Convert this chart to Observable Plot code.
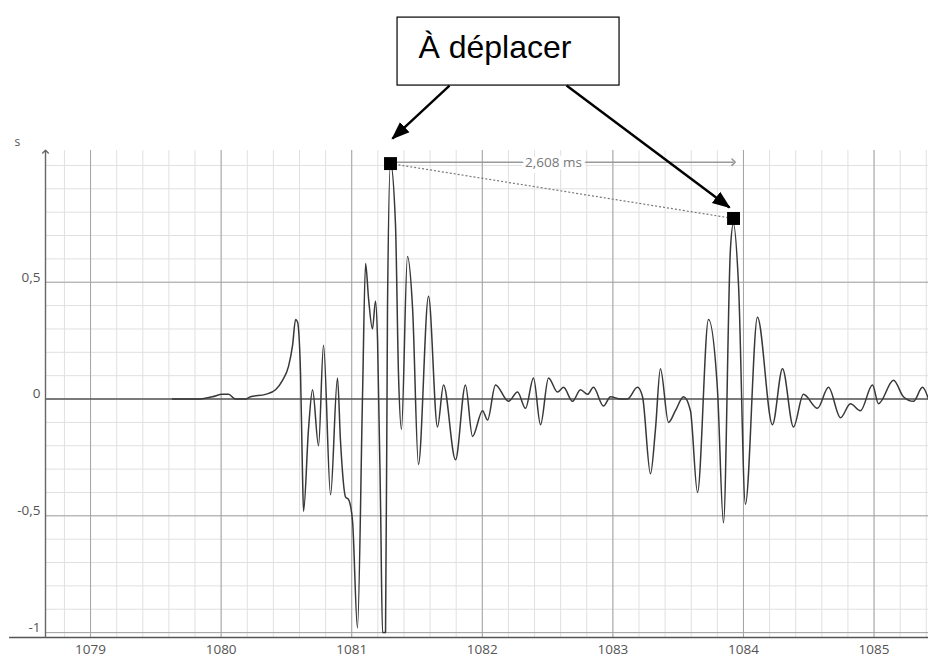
<!DOCTYPE html>
<html>
<head>
<meta charset="utf-8">
<script src="https://cdn.jsdelivr.net/npm/d3@7"></script>
<script src="https://cdn.jsdelivr.net/npm/@observablehq/plot@0.6"></script>
<style>
  html, body { margin: 0; padding: 0; background: #fff; }
  #chart { width: 928px; height: 660px; overflow: hidden; }
</style>
</head>
<body>
<div id="chart"></div>
<script>
// ---- Data ----
// time axis in ms, amplitude (unitless, axis titled "s")
const timeMs = [
  1079.628, 1079.842, 1079.934, 1080.011, 1080.057, 1080.110, 1080.187, 1080.225, 1080.340, 1080.417,
  1080.470, 1080.516, 1080.547, 1080.570, 1080.585, 1080.608, 1080.623, 1080.631, 1080.669, 1080.700,
  1080.746, 1080.784, 1080.838, 1080.891, 1080.914, 1080.953, 1080.975, 1081.006, 1081.044, 1081.083,
  1081.106, 1081.129, 1081.159, 1081.182, 1081.198, 1081.221, 1081.236, 1081.259, 1081.274, 1081.297,
  1081.335, 1081.358, 1081.381, 1081.427, 1081.466, 1081.511, 1081.588, 1081.657, 1081.703, 1081.795,
  1081.871, 1081.925, 1082.002, 1082.040, 1082.101, 1082.201, 1082.270, 1082.331, 1082.392, 1082.446,
  1082.507, 1082.576, 1082.622, 1082.691, 1082.752, 1082.806, 1082.851, 1082.928, 1082.982, 1083.058,
  1083.112, 1083.188, 1083.227, 1083.288, 1083.326, 1083.364, 1083.426, 1083.479, 1083.541, 1083.594,
  1083.648, 1083.732, 1083.801, 1083.847, 1083.900, 1083.923, 1083.962, 1084.015, 1084.107, 1084.222,
  1084.299, 1084.383, 1084.459, 1084.567, 1084.651, 1084.743, 1084.819, 1084.896, 1084.988, 1085.034,
  1085.149, 1085.225, 1085.302, 1085.371, 1085.417
];
const amplitude = [
  0.00, 0.00, 0.01, 0.02, 0.02, 0.00, 0.00, 0.01, 0.02, 0.04,
  0.08, 0.14, 0.23, 0.34, 0.33, 0.11, -0.32, -0.48, -0.13, 0.04,
  -0.20, 0.23, -0.41, 0.09, -0.18, -0.42, -0.43, -0.52, -0.98, 0.02,
  0.58, 0.43, 0.30, 0.42, 0.25, -0.46, -1.00, -1.00, 0.39, 1.01,
  0.75, 0.11, -0.13, 0.61, 0.39, -0.28, 0.44, -0.12, 0.06, -0.26,
  0.06, -0.16, -0.05, -0.09, 0.06, -0.01, 0.03, -0.04, 0.09, -0.11,
  0.09, 0.03, 0.05, -0.01, 0.04, 0.02, 0.05, -0.03, 0.01, 0.00,
  0.00, 0.05, 0.01, -0.32, -0.13, 0.13, -0.10, -0.05, 0.01, -0.05,
  -0.40, 0.34, 0.04, -0.53, 0.64, 0.75, 0.49, -0.45, 0.35, -0.11,
  0.13, -0.12, 0.02, -0.04, 0.05, -0.08, -0.02, -0.05, 0.06, -0.02,
  0.08, 0.01, -0.01, 0.05, 0.00
];
// the two measurement cursors (black squares)
const cursorTime = [1081.297, 1083.924];
const cursorAmp = [1.008, 0.773];
const measureLabel = "2,608 ms";
const measureLevel = 1.014;
const measureLabelTime = 1082.545;

// axis ticks
const xTicks = [1079, 1080, 1081, 1082, 1083, 1084, 1085];
const yTicks = [-1, -0.5, 0, 0.5];
const yAxisTitle = "s";

// call-out note (in data units of the chart)
const noteText = "À déplacer";
const noteBox = {x1: 1081.351, x2: 1083.051, y1: 1.342, y2: 1.633};
const noteTextPos = {x: 1081.511, y: 1.506};
const noteArrowTail = [{x: 1081.749, y: 1.342}, {x: 1082.645, y: 1.342}];
const noteArrowHead = [{x: 1081.312, y: 1.115}, {x: 1083.893, y: 0.820}];

// ---- build ----
const wave = timeMs.map((t, i) => ({t, a: amplitude[i]}));
const cursors = cursorTime.map((t, i) => ({t, a: cursorAmp[i]}));
const arrows = noteArrowTail.map((s, i) => ({x1: s.x, y1: s.y, x2: noteArrowHead[i].x, y2: noteArrowHead[i].y}));

const xDomain = [1078.655, 1085.417];
const yDomain = [-1.021, 1.064];

const minorX = d3.range(Math.ceil(xDomain[0] / 0.2) * 0.2, xDomain[1], 0.2).map(v => +v.toFixed(1));
const minorY = d3.range(-10, 11).map(v => v / 10);

function filledArrow(color, context) {
  const m = d3.create("svg:marker")
    .attr("viewBox", "-7 -4 8 8")
    .attr("markerWidth", 8)
    .attr("markerHeight", 8)
    .attr("orient", "auto")
    .attr("fill", "black")
    .attr("stroke", "none");
  m.append("path").attr("d", "M-7,-2.9L0.6,0L-7,2.9Z");
  return m.node();
}

const chart = Plot.plot({
  width: 928,
  height: 660,
  marginTop: 150,
  marginLeft: 45,
  marginRight: 0,
  marginBottom: 23,
  style: {fontFamily: "'Open Sans', 'Noto Sans', sans-serif", fontSize: "14px", color: "#555", background: "#fff", overflow: "visible"},
  x: {domain: xDomain},
  y: {domain: yDomain},
  marks: [
    // minor grid
    Plot.ruleX(minorX, {stroke: "#e0e0e0", strokeWidth: 1}),
    Plot.ruleY(minorY, {stroke: "#e0e0e0", strokeWidth: 1}),
    // major grid
    Plot.ruleX(xTicks, {stroke: "#a4a4a4", strokeWidth: 1}),
    Plot.ruleY(yTicks.filter(d => d !== 0), {stroke: "#a4a4a4", strokeWidth: 1}),
    Plot.ruleY([0], {stroke: "#555", strokeWidth: 1.3}),
    // axes lines
    Plot.ruleY([yDomain[0]], {x1: 1078.38, x2: xDomain[1], stroke: "#555", strokeWidth: 1.6}),
    Plot.link([0], {x1: xDomain[0], x2: xDomain[0], y1: yDomain[0], y2: yDomain[1] - 0.005, stroke: "#666", strokeWidth: 1.4, markerEnd: "arrow"}),
    Plot.axisX(xTicks, {tickSize: 0, tickPadding: 7, tickFormat: d => String(d), label: null, fill: "#555", fontSize: 13.5}),
    Plot.axisY(yTicks, {tickSize: 0, tickPadding: 5, dy: -5, tickFormat: d => String(d).replace(".", ","), label: null, fill: "#555", fontSize: 13.5}),
    Plot.text([yAxisTitle], {frameAnchor: "top-left", dx: -31, dy: -13, fill: "#555", fontSize: 12}),
    // waveform
    Plot.line(wave, {x: "t", y: "a", stroke: "#383838", strokeWidth: 1.5, curve: "monotone-x"}),
    // dotted line between cursors
    Plot.link([0], {x1: cursorTime[0], y1: cursorAmp[0], x2: cursorTime[1], y2: cursorAmp[1], stroke: "#777", strokeWidth: 1.2, strokeDasharray: "2,2"}),
    // measurement double arrow
    Plot.link([0], {x1: cursorTime[0], x2: cursorTime[1], y1: measureLevel, y2: measureLevel, stroke: "#9a9a9a", strokeWidth: 1.6, markerStart: "arrow", markerEnd: "arrow"}),
    Plot.text([measureLabel], {x: measureLabelTime, y: measureLevel, fill: "#777", stroke: "white", strokeWidth: 8, fontSize: 13.5}),
    // cursors
    Plot.dot(cursors, {x: "t", y: "a", symbol: "square", r: 7.3, fill: "black", stroke: "none"}),
    // call-out note
    Plot.rect([noteBox], {x1: "x1", x2: "x2", y1: "y1", y2: "y2", fill: "white", stroke: "black", strokeWidth: 1.2, clip: false}),
    Plot.text([noteText], {x: noteTextPos.x, y: noteTextPos.y, textAnchor: "start", fill: "black", fontSize: 32, fontFamily: "'Liberation Sans', Arial, sans-serif"}),
    Plot.link(arrows, {x1: "x1", y1: "y1", x2: "x2", y2: "y2", stroke: "black", strokeWidth: 2.4, markerEnd: filledArrow})
  ]
});

document.getElementById("chart").append(chart);
</script>
</body>
</html>
